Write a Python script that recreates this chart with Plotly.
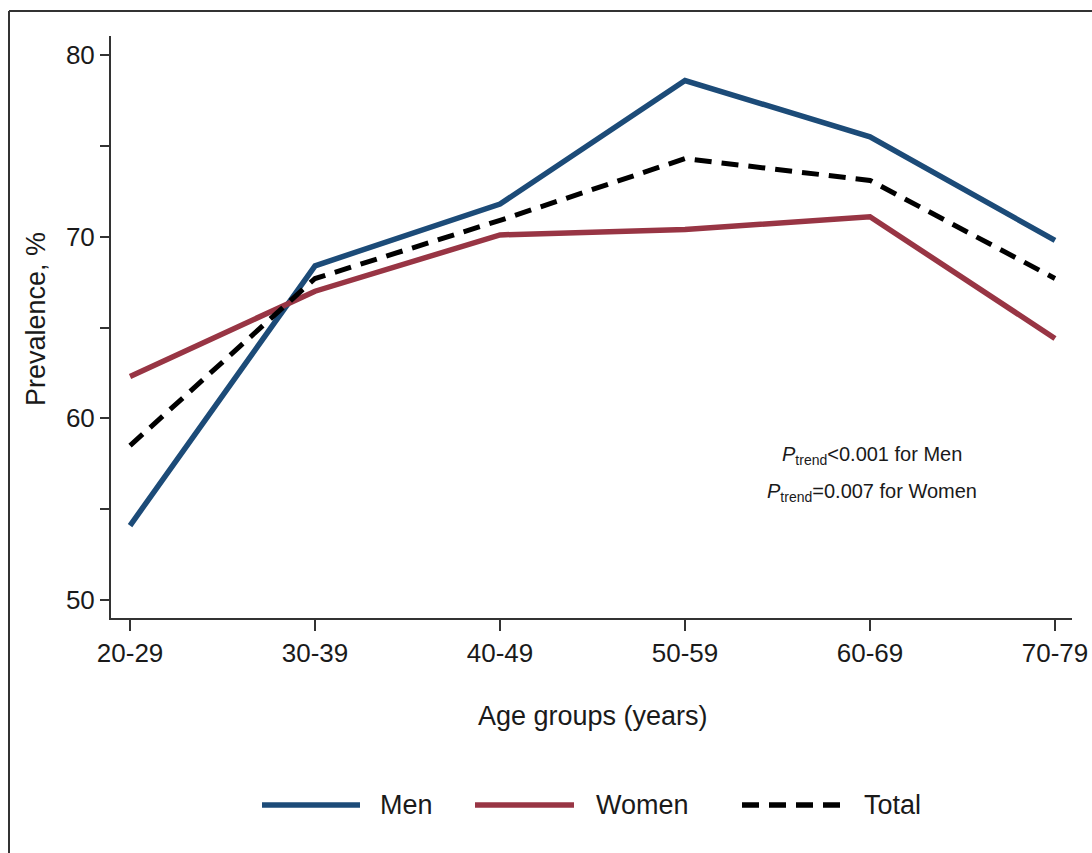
import plotly.graph_objects as go

age_groups = ["20-29", "30-39", "40-49", "50-59", "60-69", "70-79"]
men = [54.1, 68.4, 71.8, 78.6, 75.5, 69.8]
women = [62.3, 67.0, 70.1, 70.4, 71.1, 64.4]
total = [58.5, 67.7, 70.9, 74.3, 73.1, 67.7]

y_major = [50, 60, 70, 80]
ptrend_lines = ["<i>P</i><sub>trend</sub><0.001 for Men",
                "<i>P</i><sub>trend</sub>=0.007 for Women"]

MEN_C = "#1c4b78"
WOMEN_C = "#983544"
TOTAL_C = "#000000"
FONT = "Liberation Sans, Arial, sans-serif"
TXT = "#1a1a1a"

fig = go.Figure()
fig.add_trace(go.Scatter(x=age_groups, y=men, mode="lines", name="Men",
                         line=dict(color=MEN_C, width=5.5)))
fig.add_trace(go.Scatter(x=age_groups, y=women, mode="lines", name="Women",
                         line=dict(color=WOMEN_C, width=5.5)))
fig.add_trace(go.Scatter(x=age_groups, y=total, mode="lines", name="Total",
                         line=dict(color=TOTAL_C, width=5, dash="17px,10px")))

L, R, T, B = 111, 20, 36, 235
W, H = 1092, 853
pw, ph = W - L - R, H - T - B

def px_x(x):
    return (x - L) / pw

def px_y(y):
    return (H - B - y) / ph

fig.update_layout(
    width=W, height=H,
    margin=dict(l=L, r=R, t=T, b=B, autoexpand=False),
    paper_bgcolor="white", plot_bgcolor="white",
    showlegend=False,
    font=dict(family=FONT, size=26, color=TXT),
    xaxis=dict(
        type="category", range=[-0.103, 5.092], automargin=False,
        showgrid=False, zeroline=False,
        showline=True, linecolor="#333", linewidth=2,
        ticks="outside", ticklen=11, tickwidth=1.5, tickcolor="#333",
        tickfont=dict(size=26, color=TXT),
    ),
    yaxis=dict(
        range=[49.01, 81.05], automargin=False,
        tickvals=y_major,
        showgrid=False, zeroline=False,
        showline=True, linecolor="#333", linewidth=2,
        ticks="outside", ticklen=9, tickwidth=1.5, tickcolor="#333",
        tickfont=dict(size=26, color=TXT),
        minor=dict(ticks="outside", dtick=5, ticklen=9, tickwidth=1.5, tickcolor="#333"),
    ),
)

# outer frame (left and top edges)
fig.add_shape(type="line", xref="paper", yref="paper",
              x0=px_x(9), x1=px_x(9), y0=px_y(853), y1=px_y(11),
              line=dict(color="#333", width=2))
fig.add_shape(type="line", xref="paper", yref="paper",
              x0=px_x(9), x1=px_x(1092), y0=px_y(11), y1=px_y(11),
              line=dict(color="#333", width=2))

# axis titles
fig.add_annotation(text="Prevalence, %", xref="paper", yref="paper",
                   x=px_x(36), y=px_y(319), textangle=-90, showarrow=False,
                   font=dict(size=27, color=TXT), xanchor="center", yanchor="middle")
fig.add_annotation(text="Age groups (years)", xref="paper", yref="paper",
                   x=px_x(593), y=px_y(716), showarrow=False,
                   font=dict(size=27, color=TXT), xanchor="center", yanchor="middle")

# P-trend annotations
for i, txt in enumerate(ptrend_lines):
    fig.add_annotation(text=txt, xref="paper", yref="paper",
                       x=px_x(872), y=px_y(455 + 37 * i), showarrow=False,
                       font=dict(size=20, color=TXT), xanchor="center", yanchor="middle")

# legend drawn manually
legend_items = [("Men", MEN_C, "solid", 262, 360, 378),
                ("Women", WOMEN_C, "solid", 475, 574, 594),
                ("Total", TOTAL_C, "17px,10px", 742, 842, 862)]
ly = 805
for name, col, dash, x0, x1, tx in legend_items:
    fig.add_shape(type="line", xref="paper", yref="paper",
                  x0=px_x(x0), x1=px_x(x1), y0=px_y(ly), y1=px_y(ly),
                  line=dict(color=col, width=5.5, dash=dash))
    fig.add_annotation(text=name, xref="paper", yref="paper",
                       x=px_x(tx), y=px_y(ly), showarrow=False,
                       font=dict(size=27, color=TXT), xanchor="left", yanchor="middle")

fig.write_html("out.html", config={"displayModeBar": False},
               post_script="document.body.style.margin='0';document.body.style.overflow='hidden';")
